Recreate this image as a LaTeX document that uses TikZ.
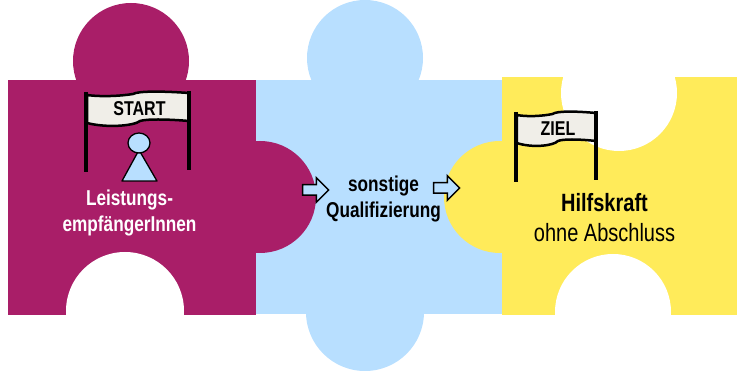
\documentclass[tikz,border=0pt]{standalone}
\usepackage{fontspec}
\setmainfont[FakeStretch=0.8]{Liberation Sans}
\usetikzlibrary{shapes.arrows}
\definecolor{pieceRed}{HTML}{A91E68}
\definecolor{pieceBlue}{HTML}{B8DFFF}
\definecolor{pieceYellow}{HTML}{FFEB5A}
\definecolor{bannerGrey}{HTML}{F0EEE8}
\tikzset{
    x=1pt,
    y=-1pt,
    stepArrow/.style={draw=black,line width=1.5pt,fill=pieceBlue,single arrow,inner xsep=0,inner ysep=4.5pt,
        minimum height=26pt,minimum width=19pt},
    label/.style={font=\fontsize{21.5}{26}\selectfont\bfseries,align=center,inner sep=0},
}
\newcommand{\knob}[4] {
    \fill[#1] ({#2},{#3}) circle (#4);
}
\newcommand{\flagBanner}[5] {
    \draw[fill=bannerGrey,line width=2.5pt,xshift=#1,yshift=-#2,xscale=#3/103]
        (1,1) .. controls (15,3) and (35,2) .. (47,0)
        .. controls (52,-3) and (75,-3) .. (103,-1)
        -- (103,27) .. controls (80,25) and (60,25) .. (54,27)
        .. controls (48,32) and (20,34) .. (1,29) -- cycle;
    \draw[line width=4pt] ({#1},{#2-2}) -- ({#1},{#2+#4});
    \draw[line width=4pt] ({#1+#3},{#2-3}) -- ({#1+#3},{#2+#4-2});
    \node[font=\fontsize{#5}{#5}\selectfont\bfseries,inner sep=0]
        at ({#1+#3/2+2},{#2+15}) {\flagText};
}
\newcommand{\flagText}{}
\begin{document}
\begin{tikzpicture}
    \useasboundingbox (0,0) rectangle (737,371);
    % blue piece
    \fill[pieceBlue] (256,80) rectangle (502,314);
    \knob{pieceBlue}{365}{58}{58};
    \knob{pieceBlue}{365}{312}{59};
    % red piece
    \fill[pieceRed] (8,80) rectangle (256,315);
    \knob{pieceRed}{131}{61}{58};
    \knob{pieceRed}{260}{197}{56};
    \knob{white}{125}{311}{59};
    \fill[white] (60,315) rectangle (190,330);
    % yellow piece
    \fill[pieceYellow] (502,77) rectangle (737,315);
    \knob{pieceYellow}{500}{197}{56};
    \knob{white}{619}{93}{58};
    \fill[white] (555,60) rectangle (685,77);
    \knob{white}{613}{312}{58};
    \fill[white] (550,315) rectangle (680,330);
    % flags
    \renewcommand{\flagText}{START}
    \flagBanner{86}{94}{103}{78}{20};
    \renewcommand{\flagText}{ZIEL}
    \flagBanner{516}{114}{80}{68}{20};
    % figure
    \draw[fill=pieceBlue,line width=1.3pt,line join=round] (139,150) -- (122,181) -- (157,181) -- cycle;
    \draw[fill=pieceBlue,line width=1.3pt] (139,143) ellipse (11 and 10);
    % labels
    \node[label,text=white] (start) at (129.5,213) {Leistungs-\\empfängerInnen};
    \node[label] (middle) at (383.5,199) {sonstige\\Qualifizierung};
    \node[label,font=\fontsize{25}{30}\selectfont] (goal) at (604.5,218) {\textbf{Hilfskraft}\\ohne Abschluss};
    \node[stepArrow] (stepA) at (313,190) {};
    \node[stepArrow] (stepB) at (444,188) {};
\end{tikzpicture}
\end{document}
